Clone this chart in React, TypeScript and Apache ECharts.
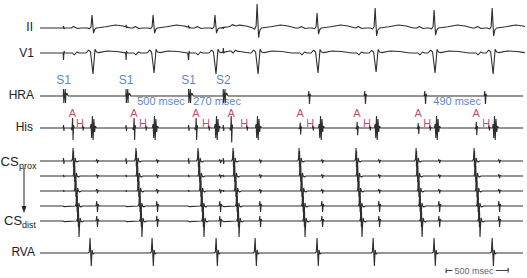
import React, { useEffect, useRef } from "react";
import * as echarts from "echarts";

type Pt = [number, number];

// ---------- timing data (ms from strip start) ----------
const END_MS = 3900;
const stimTimes = [190, 695, 1200, 1480];
const stimLabels = ["S1", "S1", "S1", "S2"];
const stimSurfaceScale = [1, 1, 1, -0.6];
const hraSenseTimes = [2173, 2625, 3110, 3594];
const hisATimes = [262, 759, 1260, 1543, 2100, 2560, 3053, 3522];
const hisAScale = [1, 1, 1, 1.2, 0.55, 0.6, 0.5, 0.6];
const hisHTimes = [347, 856, 1365, 1672, 2205, 2665, 3150, 3627];
const hisVTimes = [428, 929, 1430, 1761, 2270, 2722, 3207, 3675];
const csATimes = [267, 775, 1276, 1559, 2092, 2552, 3037, 3505];
const csLagMs = [0, 10, 20, 30, 40];
const csStimScale = [1, 0.4, 0.3, 0.2, 0.2];
const csVTimes = [460, 945, 1454, 1777, 2278, 2738, 3223, 3707];
const csVScale = [0.35, 0.35, 0.4, 1, 1];
const qrsTimes = [420, 913, 1413, 1753, 2237, 2706, 3182, 3651];
const qrsIIAmp = [13, 13, 13, 24, 15, 20, 18, 20];
const qrsV1Amp = [21, 20, 21, 21, 20, 19, 20, 21];
const rvaTimes = [404, 905, 1422, 1737, 2237, 2690, 3182, 3651];

const intervalLabels = ["500 msec", "270 msec", "490 msec"];
const intervalLabelTimes = [977, 1430, 3368];
const scaleBarStart = 3280;
const scaleBarLength = 500;

// ---------- deflection shapes [ms offset, amplitude] ----------
const SHAPE_II_QRS: Pt[] = [[-40, 0], [-20, -0.05], [-8, 0.08], [0, 1], [12, -0.4], [22, -0.1], [36, 0]];
const SHAPE_II_T: Pt[] = [[40, 0], [110, 1.2], [190, 3], [250, 2], [310, 0]];
const SHAPE_II_P: Pt[] = [[-10, 0], [10, 1.5], [40, -0.5], [70, 0]];
const SHAPE_II_STIM: Pt[] = [[-3, 0], [0, 2], [4, -1], [8, 0]];
const SHAPE_V1_QRS: Pt[] = [[-56, 0], [-36, 0.14], [-20, 0.05], [0, -1], [16, 0.18], [28, 0.05], [48, 0]];
const SHAPE_V1_T: Pt[] = [[40, 0], [120, 2], [200, 1.5], [280, 0]];
const SHAPE_V1_P: Pt[] = [[0, 0], [15, -2], [35, 1], [55, 0]];
const SHAPE_V1_STIM: Pt[] = [[-3, 0], [0, -7], [4, 2], [8, 0]];
const SHAPE_HRA_STIM: Pt[] = [[-2, 0], [0, 7], [2, -7], [14, 7], [16, -7], [18, 0], [26, 3], [38, 0]];
const SHAPE_HRA_SENSE: Pt[] = [[-8, 0], [-3, 5], [3, -8], [8, 2], [14, 0]];
const SHAPE_HIS_STIM: Pt[] = [[-3, 0], [0, 3], [3, -3], [6, 0]];
const SHAPE_HIS_A: Pt[] = [[-10, 0], [-6, -2], [-2, 2], [1, 10], [5, -12], [9, 3], [14, 0]];
const SHAPE_HIS_H: Pt[] = [[-5, 0], [-2, 2.5], [2, -2.5], [5, 1], [9, 0]];
const SHAPE_HIS_V: Pt[] = [[-22, 0], [-16, 4], [-11, -10], [-5, 12], [1, -12], [7, 9], [13, -4], [19, 2], [28, 0]];
const SHAPE_CS_STIM: Pt[] = [[-3, 0], [0, 3], [3, -3], [6, 0]];
const SHAPE_CS_A: Pt[] = [[-12, 0], [-5, 2], [0, 13], [3, -6], [4, 10], [8, -16], [12, -5], [17, 3], [23, 0], [33, -1], [46, 0]];
const SHAPE_CS_V: Pt[] = [[-12, 0], [-6, 1], [-2, 5], [4, -6], [9, 2], [16, 0]];
const SHAPE_RVA: Pt[] = [[-16, 0], [-6, 1], [0, 15], [10, -13], [16, 3], [24, -1], [34, 0]];

// ---------- layout (pixel baselines of channels) ----------
const BASE = { II: 28, V1: 53, HRA: 96, His: 128, CS: [161, 176, 191, 206, 221], RVA: 253, SCALE: 273 };
const FONT = '"Liberation Sans", Arial, Helvetica, sans-serif';
const TRACE = "#2e2e2e";
const BLUE = "#2f63b6";
const RED = "#b3153f";

function place(shape: Pt[], t0: number, scale = 1): Pt[] {
  return shape.map(([dt, a]) => [t0 + dt, a * scale] as Pt);
}
function valueAt(p: Pt[], t: number): number {
  if (t <= p[0][0] || t >= p[p.length - 1][0]) return 0;
  for (let i = 0; i < p.length - 1; i++) {
    const [t1, a1] = p[i];
    const [t2, a2] = p[i + 1];
    if (t >= t1 && t <= t2) return a1 + ((a2 - a1) * (t - t1)) / (t2 - t1);
  }
  return 0;
}
function trace(parts: Pt[][]): Pt[] {
  const set = new Set<number>([0, END_MS]);
  parts.forEach((p) => p.forEach(([t]) => set.add(t)));
  const times = [...set].sort((a, b) => a - b);
  return times.map((t) => [t, parts.reduce((s, p) => s + valueAt(p, t), 0)] as Pt);
}

function buildChannels() {
  const ch: { base: number; data: Pt[] }[] = [];
  ch.push({
    base: BASE.II,
    data: trace([
      ...qrsTimes.map((t, i) => place(SHAPE_II_QRS, t, qrsIIAmp[i])),
      ...qrsTimes.map((t) => place(SHAPE_II_T, t)),
      ...hisATimes.map((t) => place(SHAPE_II_P, t)),
      ...stimTimes.map((t, i) => place(SHAPE_II_STIM, t, stimSurfaceScale[i])),
    ]),
  });
  ch.push({
    base: BASE.V1,
    data: trace([
      ...qrsTimes.map((t, i) => place(SHAPE_V1_QRS, t + 8, qrsV1Amp[i])),
      ...qrsTimes.map((t) => place(SHAPE_V1_T, t)),
      ...hisATimes.map((t) => place(SHAPE_V1_P, t)),
      ...stimTimes.map((t, i) => place(SHAPE_V1_STIM, t, stimSurfaceScale[i])),
    ]),
  });
  ch.push({
    base: BASE.HRA,
    data: trace([
      ...stimTimes.map((t) => place(SHAPE_HRA_STIM, t)),
      ...hraSenseTimes.map((t) => place(SHAPE_HRA_SENSE, t)),
    ]),
  });
  ch.push({
    base: BASE.His,
    data: trace([
      ...stimTimes.map((t) => place(SHAPE_HIS_STIM, t)),
      ...hisATimes.map((t, i) => place(SHAPE_HIS_A, t, hisAScale[i])),
      ...hisHTimes.map((t) => place(SHAPE_HIS_H, t)),
      ...hisVTimes.map((t) => place(SHAPE_HIS_V, t)),
    ]),
  });
  BASE.CS.forEach((b, k) => {
    ch.push({
      base: b,
      data: trace([
        ...stimTimes.map((t) => place(SHAPE_CS_STIM, t, csStimScale[k])),
        ...csATimes.map((t) => place(SHAPE_CS_A, t + csLagMs[k])),
        ...csVTimes.map((t) => place(SHAPE_CS_V, t, csVScale[k])),
      ]),
    });
  });
  ch.push({ base: BASE.RVA, data: trace(rvaTimes.map((t) => place(SHAPE_RVA, t))) });
  return ch;
}

function buildOption() {
  const channels = buildChannels();
  const bases = [...channels.map((c) => c.base), BASE.SCALE];
  const grid = bases.map((b) => ({ left: 40, right: 4, top: b - 10, height: 20 }));
  const xAxis = bases.map((_, i) => ({ gridIndex: i, type: "value", min: 0, max: END_MS, show: false }));
  const yAxis = bases.map((_, i) => ({ gridIndex: i, type: "value", min: -10, max: 10, show: false }));
  const series: any[] = channels.map((c, i) => ({
    type: "line",
    xAxisIndex: i,
    yAxisIndex: i,
    data: c.data,
    showSymbol: false,
    symbol: "none",
    clip: false,
    silent: true,
    lineStyle: { color: TRACE, width: 1.1 },
  }));
  const labelSeries = (idx: number, data: any[], color: string, size: number) => ({
    type: "scatter",
    xAxisIndex: idx,
    yAxisIndex: idx,
    symbolSize: 0.1,
    clip: false,
    itemStyle: { color: "transparent" },
    silent: true,
    z: 10,
    data,
    label: {
      show: true,
      position: "inside",
      formatter: (p: any) => p.data[2],
      color,
      fontSize: size,
      fontFamily: FONT,
    },
  });
  series.push(labelSeries(2, stimTimes.map((t, i) => [t, 16, stimLabels[i]]), BLUE, 12));
  series.push(labelSeries(2, intervalLabelTimes.map((t, i) => [t, -4.5, intervalLabels[i]]), BLUE, 11));
  series.push(labelSeries(3, hisATimes.map((t) => [t, 15.5, "A"]), RED, 11));
  series.push(labelSeries(3, hisHTimes.map((t) => [t - 24, 5, "H"]), RED, 11));
  const si = bases.length - 1;
  const sEnd = scaleBarStart + scaleBarLength;
  series.push({
    type: "line", xAxisIndex: si, yAxisIndex: si, symbol: "none", clip: false, silent: true,
    lineStyle: { color: "#444", width: 1 },
    data: [[scaleBarStart, 3], [scaleBarStart, -3], [scaleBarStart, 0], [scaleBarStart + 50, 0]],
  });
  series.push({
    type: "line", xAxisIndex: si, yAxisIndex: si, symbol: "none", clip: false, silent: true,
    lineStyle: { color: "#444", width: 1 },
    data: [[sEnd - 100, 0], [sEnd, 0], [sEnd, 3], [sEnd, -3]],
  });
  series.push(labelSeries(si, [[scaleBarStart + scaleBarLength / 2 - 25, 0, "500 msec"]], "#333", 9));

  const txt = (text: string, x: number, y: number, size: number, align = "right") => ({
    type: "text",
    x,
    y,
    style: { text, fontSize: size, fontFamily: FONT, fill: "#222", align, verticalAlign: "middle" },
  });
  const graphic = [
    txt("II", 33, BASE.II - 1, 12),
    txt("V1", 34, BASE.V1, 12),
    txt("HRA", 34, BASE.HRA - 1, 12),
    txt("His", 33, BASE.His - 1, 12),
    txt("CS", 0.5, BASE.CS[0], 13, "left"),
    txt("prox", 19, BASE.CS[0] + 5, 9, "left"),
    txt("CS", 4, BASE.CS[4] - 1, 13, "left"),
    txt("dist", 22, BASE.CS[4] + 4, 9, "left"),
    txt("RVA", 35, BASE.RVA - 1, 12),
    { type: "line", shape: { x1: 24, y1: 168, x2: 24, y2: 208 }, style: { stroke: "#222", lineWidth: 1 } },
    { type: "polygon", shape: { points: [[21.5, 206], [26.5, 206], [24, 213]] }, style: { fill: "#222" } },
  ];

  return { animation: false, backgroundColor: "#ffffff", grid, xAxis, yAxis, series, graphic };
}

export default function App() {
  const ref = useRef<HTMLDivElement>(null);
  useEffect(() => {
    document.body.style.margin = "0";
    const chart = echarts.init(ref.current!, null, { renderer: "svg" });
    chart.setOption(buildOption() as any);
    return () => chart.dispose();
  }, []);
  return <div ref={ref} style={{ width: 527, height: 278 }} />;
}
